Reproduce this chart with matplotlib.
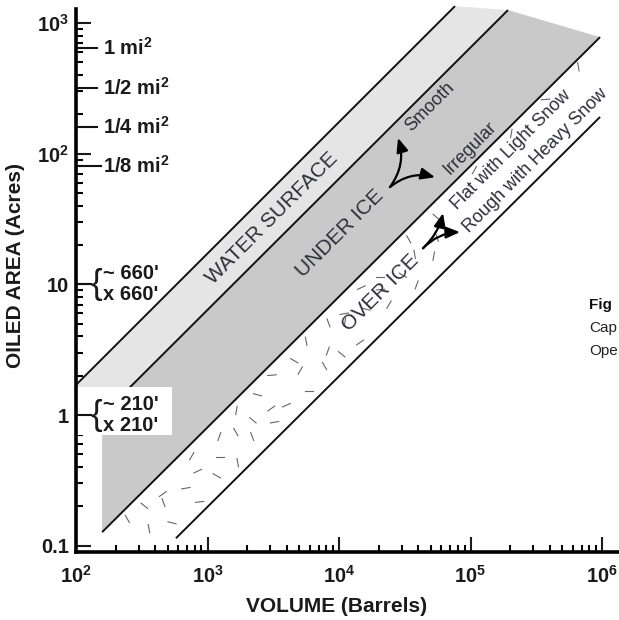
import numpy as np
import matplotlib.pyplot as plt
from matplotlib.transforms import blended_transform_factory
from matplotlib.patches import Rectangle

plt.rcParams['font.family'] = ['Liberation Sans', 'DejaVu Sans']

# boundary lines (volume in barrels, oiled area in acres)
water_vol = [100, 76200]
water_area = [1.70, 1347]
under_vol = [158, 192700]
under_area = [1.0, 1256]
ice_vol = [158, 966000]
ice_area = [0.127, 780]
over_vol = [575, 966000]
over_area = [0.114, 191]

x_ticks = [1e2, 1e3, 1e4, 1e5, 1e6]
x_labels = [r'$\mathregular{10^2}$', r'$\mathregular{10^3}$', r'$\mathregular{10^4}$',
            r'$\mathregular{10^5}$', r'$\mathregular{10^6}$']
y_ticks = [0.1, 1, 10, 100, 1000]
y_labels = ['0.1', '1', '10', r'$\mathregular{10^2}$', r'$\mathregular{10^3}$']

# square mile reference marks
mi_acres = [640, 320, 160, 80]
mi_labels = [r'1 mi$^\mathregular{2}$', r'1/2 mi$^\mathregular{2}$',
             r'1/4 mi$^\mathregular{2}$', r'1/8 mi$^\mathregular{2}$']
sq_acres = [10, 1.0]
sq_labels = ["~ 660'\nx 660'", "~ 210'\nx 210'"]

TEXT_C = '#2e2e3c'
LIGHT = '#e5e5e5'
DARK = '#c9c9ca'

fig = plt.figure(figsize=(6.19, 6.2), dpi=100)
ax = fig.add_axes([76 / 619, 68 / 620, 543 / 619, 543 / 620])
ax.set_xscale('log')
ax.set_yscale('log')
ax.set_xlim(100, 1.346e6)
ax.set_ylim(0.0895, 1280)

# shaded bands
ax.fill([water_vol[0], water_vol[1], under_vol[1], under_vol[0], water_vol[0]],
        [water_area[0], water_area[1], under_area[1], under_area[0], under_area[0]],
        color=LIGHT, lw=0, zorder=1, clip_on=False)
ax.fill([under_vol[0], under_vol[1], ice_vol[1], ice_vol[0]],
        [under_area[0], under_area[1], ice_area[1], ice_area[0]],
        color=DARK, lw=0, zorder=1, clip_on=False)

# over ice texture: short dashes between the two lower lines
c_top = np.log10(ice_area[0]) - np.log10(ice_vol[0])
angles = [0, 35, 80, 150, 10, 120, 60, 165, 100, 25, 140, 70, 5, 110]
jit_s = [0.0, 0.05, -0.03, 0.06, -0.05, 0.02, -0.06, 0.04, 0.01, -0.02, 0.07]
jit_t = [0.03, -0.04, 0.0, 0.05, -0.02, 0.04, -0.05, 0.01, -0.03]
half = 0.032
for k in range(30):
    for j, t in enumerate([0.12, 0.29, 0.46]):
        s = 2.27 + 0.15 * k + 0.075 * (j % 2) + jit_s[(k * 2 + j) % 11]
        tt = min(max(t + jit_t[(k + j * 4) % 9], 0.09), 0.54)
        if s > 4.8:
            # sparse marks along the top edge, clear of the snow labels
            if j != 0 or k % 2:
                continue
            tt = 0.06
        la = s + c_top - tt
        if la < -0.96 or s > 5.9 or s < 2.26:
            continue
        a = np.radians(angles[(k * 5 + j * 3) % 14])
        dx, dy = half * np.cos(a), half * np.sin(a)
        ax.plot([10 ** (s - dx), 10 ** (s + dx)], [10 ** (la - dy), 10 ** (la + dy)],
                color='#666666', lw=0.8, zorder=1.5)

for v, a in [(water_vol, water_area), (under_vol, under_area),
             (ice_vol, ice_area), (over_vol, over_area)]:
    ax.plot(v, a, color='#111111', lw=1.4, zorder=2, clip_on=False,
            solid_capstyle='butt')

# axis styling
for side in ['top', 'right']:
    ax.spines[side].set_visible(False)
for side in ['left', 'bottom']:
    ax.spines[side].set_linewidth(2.6)
    ax.spines[side].set_zorder(6)
ax.set_xticks(x_ticks)
ax.set_xticklabels(x_labels)
ax.set_yticks(y_ticks)
ax.set_yticklabels(y_labels)
ax.tick_params(which='major', direction='in', length=10.5, width=1.5,
               labelsize=14.5, colors='#1a1a1a')
ax.tick_params(which='minor', direction='in', length=5, width=1.5)
ax.tick_params(axis='x', pad=9)
ax.tick_params(axis='y', pad=5)
for lab in ax.get_xticklabels() + ax.get_yticklabels():
    lab.set_fontweight('bold')

trans = blended_transform_factory(ax.transAxes, ax.transData)
px = 1 / 543
for val, lab in zip(mi_acres, mi_labels):
    tlen = 25 if val == 80 else 21
    ax.plot([0, tlen * px], [val, val], color='#111111', lw=1.5,
            transform=trans, clip_on=False, zorder=5)
    ax.text(27 * px, val, lab, transform=trans, fontsize=14.5, fontweight='bold',
            color='#1a1a1a', va='center', ha='left', zorder=5)

# white box behind the 210' label
ax.add_patch(Rectangle((0, 0.70), 96 * px, 0.94, transform=trans,
                       facecolor='white', edgecolor='none', zorder=3))

for val, lab in zip(sq_acres, sq_labels):
    ax.plot([0, 15 * px], [val, val], color='#111111', lw=1.5,
            transform=trans, clip_on=False, zorder=5)
    ax.text(14 * px, val, '{', transform=trans, fontsize=25, color='#1a1a1a',
            va='center', ha='left', zorder=5)
    ax.text(27 * px, val, lab, transform=trans, fontsize=14.5, fontweight='bold',
            color='#1a1a1a', va='center', ha='left', linespacing=1.15, zorder=5)

# band labels
ax.text(3090, 32.2, 'WATER SURFACE', rotation=45, rotation_mode='anchor',
        ha='center', va='center', fontsize=15, color=TEXT_C, zorder=4)
ax.text(10200, 24.7, 'UNDER ICE', rotation=45, rotation_mode='anchor',
        ha='center', va='center', fontsize=15, color=TEXT_C, zorder=4)
ax.text(20500, 8.6, 'OVER ICE', rotation=45, rotation_mode='anchor',
        ha='center', va='center', fontsize=15, color=TEXT_C, zorder=4)
ax.text(49200, 227, 'Smooth', rotation=45, rotation_mode='anchor',
        ha='center', va='center', fontsize=13, color=TEXT_C, zorder=4)
ax.text(99100, 110, 'Irregular', rotation=45, rotation_mode='anchor',
        ha='center', va='center', fontsize=13, color=TEXT_C, zorder=4)
ax.text(203000, 107, 'Flat with Light Snow', rotation=45, rotation_mode='anchor',
        ha='center', va='center', fontsize=13, color=TEXT_C, zorder=4)
ax.text(309000, 89, 'Rough with Heavy Snow', rotation=45, rotation_mode='anchor',
        ha='center', va='center', fontsize=13, color=TEXT_C, zorder=4)

arrow_kw = dict(arrowstyle='-|>,head_length=0.6,head_width=0.25', color='black',
                lw=1.6, mutation_scale=14, shrinkA=0, shrinkB=0)
ax.annotate('', xy=(28100, 132), xytext=(24400, 55.5),
            arrowprops=dict(connectionstyle='arc3,rad=0.25', **arrow_kw), zorder=5)
ax.annotate('', xy=(53700, 66), xytext=(24400, 55.5),
            arrowprops=dict(connectionstyle='arc3,rad=-0.25', **arrow_kw), zorder=5)
ax.annotate('', xy=(61800, 35.1), xytext=(43500, 18.9),
            arrowprops=dict(connectionstyle='arc3,rad=0.15', **arrow_kw), zorder=5)
ax.annotate('', xy=(83200, 25.1), xytext=(43500, 18.9),
            arrowprops=dict(connectionstyle='arc3,rad=-0.2', **arrow_kw), zorder=5)

ax.set_xlabel('VOLUME (Barrels)', fontsize=15, fontweight='bold', color='#1a1a1a')
ax.xaxis.set_label_coords((337 - 76) / 543, -(597 - 552) / 543)
fig.text(16 / 619, 1 - 265 / 620, 'OILED AREA (Acres)', rotation=90, fontsize=15,
         fontweight='bold', color='#1a1a1a', ha='center', va='center')

# caption fragment at the right edge of the page
fig.text(589 / 619, 1 - 305 / 620, 'Fig', fontsize=11, fontweight='bold',
         color='#111111', va='center', ha='left')
fig.text(589 / 619, 1 - 328 / 620, 'Cap', fontsize=11, color='#222222',
         va='center', ha='left')
fig.text(589 / 619, 1 - 351 / 620, 'Ope', fontsize=11, color='#222222',
         va='center', ha='left')

fig.savefig('out.png', dpi=100)
